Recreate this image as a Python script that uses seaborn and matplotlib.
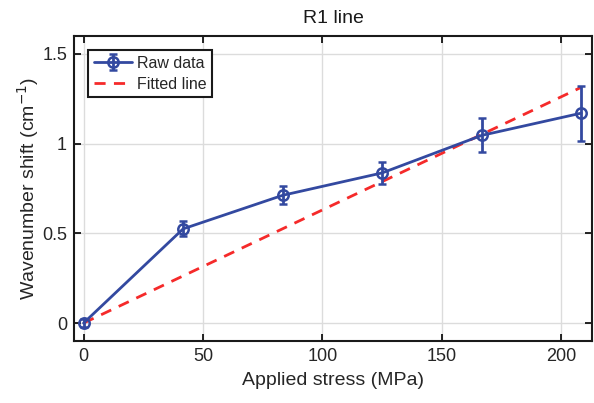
import numpy as np
import pandas as pd
import seaborn as sns
import matplotlib.pyplot as plt

# 데이터
stress = [0, 41.7, 83.4, 125.1, 166.8, 208.5]
shift = [0.0, 0.525, 0.712, 0.837, 1.046, 1.17]
shift_err = [0.02, 0.042, 0.05, 0.062, 0.095, 0.153]
fit_x = [0, 208.5]
fit_y = [0.0, 1.314]

df_fit = pd.DataFrame({'stress': fit_x, 'shift': fit_y})

sns.set_style("ticks")
plt.rcParams['font.family'] = ['Liberation Sans', 'DejaVu Sans']

blue = '#3349a0'
red = '#f52a2a'

fig = plt.figure(figsize=(5.94, 4.03), dpi=100)
ax = fig.add_axes([0.1246, 0.1538, 0.8720, 0.7569])

eb = ax.errorbar(stress, shift, yerr=shift_err, color=blue, lw=2, marker='o',
                 ms=7.5, mfc='none', mew=1.8, capsize=3, capthick=2, elinewidth=2,
                 label='Raw data', zorder=3)
sns.lineplot(data=df_fit, x='stress', y='shift', ax=ax, color=red, lw=2,
             linestyle=(0, (4, 3)), label='Fitted line', zorder=2)

ax.set_xlim(-4, 213)
ax.set_ylim(-0.1, 1.6)
ax.set_xticks([0, 50, 100, 150, 200])
ax.set_yticks([0, 0.5, 1, 1.5])
ax.set_yticklabels(['0', '0.5', '1', '1.5'])
ax.grid(True, color='#dcdcdc', lw=1)
ax.set_axisbelow(True)
ax.tick_params(direction='in', top=True, right=True, length=5, width=1.2,
               labelsize=13, colors='black', labelcolor='#262626', pad=5)
for s in ax.spines.values():
    s.set_visible(True)
    s.set_color('#1a1a1a')
    s.set_linewidth(1.5)

ax.set_xlabel('Applied stress (MPa)', fontsize=14, color='#262626', labelpad=5)
ax.set_ylabel('Wavenumber shift (cm$^{-1}$)', fontsize=14, color='#262626', labelpad=1)
ax.set_title('R1 line', fontsize=14, color='#1a1a1a', pad=9)

handles, labels = ax.get_legend_handles_labels()
order = [labels.index('Raw data'), labels.index('Fitted line')]
leg = ax.legend([handles[i] for i in order], [labels[i] for i in order],
                loc='upper left', fontsize=11.5, frameon=True, fancybox=False,
                edgecolor='#1a1a1a', borderpad=0.35, handlelength=2.4,
                labelspacing=0.35, borderaxespad=0.9, handletextpad=0.3)
leg.get_frame().set_linewidth(1.5)
leg.get_frame().set_alpha(1)

plt.savefig('out.png', dpi=100)
